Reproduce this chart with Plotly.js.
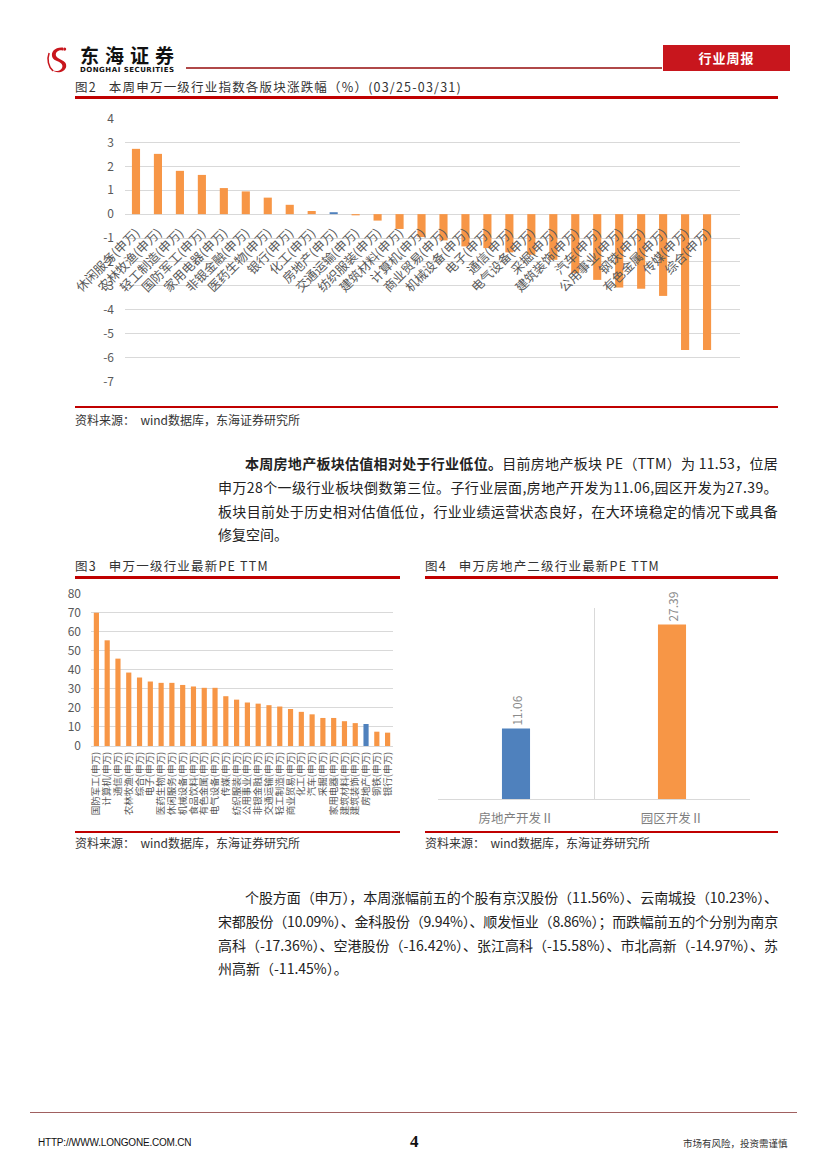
<!DOCTYPE html>
<html>
<head>
<meta charset="utf-8">
<script src="https://cdn.plot.ly/plotly-3.0.1.min.js"></script>
<style>
  html,body{margin:0;padding:0;background:#fff;}
  body{width:827px;height:1170px;position:relative;overflow:hidden;font-family:"Noto Sans CJK SC","Noto Sans",sans-serif;color:#222;}
  .a{position:absolute;white-space:nowrap;}
  .rl{position:absolute;background:#c00000;}
  .ttl{font-size:12.5px;line-height:16px;color:#333;letter-spacing:1.2px;}
  .src{font-size:12px;line-height:16px;color:#333;}
  .p{font-size:14px;line-height:24px;color:#222;display:inline-block;}
  .chart{position:absolute;}
</style>
</head>
<body>
<!-- header -->
<svg class="a" style="left:46px;top:44px;" width="28" height="32" viewBox="0 0 36 38">
  <path d="M22 3 C12 2 6 8 8 15 C10 21 20 20 21 26 C22 32 14 35 8 32 C13 37 25 35 26 27 C27 19 15 19 13 14 C11 9 17 5 22 7 Z" fill="#c8161d"/>
  <path d="M4 10 C1 18 3 28 9 33" stroke="#c8161d" stroke-width="2" fill="none"/>
  <circle cx="24" cy="5" r="2" fill="#c8161d"/>
</svg>
<div class="a" style="left:80px;top:45px;font-size:19px;line-height:20px;font-weight:bold;letter-spacing:6px;color:#111;">东海证券</div>
<div class="a" style="left:80px;top:66px;font-size:7px;line-height:8px;font-weight:bold;letter-spacing:0.5px;color:#111;font-family:'DejaVu Sans',sans-serif;">DONGHAI SECURITIES</div>
<div class="a" style="left:186px;top:67px;width:476px;height:1.5px;background:#b04848;"></div>
<div class="a" style="left:663px;top:45px;width:127px;height:26px;background:#c8161d;color:#fff;font-size:13px;font-weight:bold;line-height:26px;text-align:center;letter-spacing:1px;">行业周报</div>

<!-- Figure 2 -->
<div class="a ttl" style="left:75px;top:79px;">图2&nbsp;&nbsp;&nbsp;本周申万一级行业指数各版块涨跌幅（%）(03/25-03/31)</div>
<div class="rl" style="left:75px;top:96px;width:703px;height:2.5px;"></div>
<div id="c1" class="chart" style="left:60px;top:100px;width:720px;height:300px;"></div>
<div class="rl" style="left:75px;top:406px;width:703px;height:2px;"></div>
<div class="a src" style="left:75px;top:412px;">资料来源：&nbsp;&nbsp;wind数据库，东海证券研究所</div>

<!-- paragraph 1 -->
<div class="a" style="left:245px;top:450px;"><span class="p jl" data-w="533"><b>本周房地产板块估值相对处于行业低位。</b>目前房地产板块 PE（TTM）为 11.53，位居</span></div>
<div class="a" style="left:218px;top:474px;"><span class="p jl" data-w="560">申万28个一级行业板块倒数第三位。子行业层面,房地产开发为11.06,园区开发为27.39。</span></div>
<div class="a" style="left:218px;top:498px;"><span class="p jl" data-w="560">板块目前处于历史相对估值低位，行业业绩运营状态良好，在大环境稳定的情况下或具备</span></div>
<div class="a" style="left:218px;top:521px;"><span class="p">修复空间。</span></div>

<!-- Figure 3 & 4 titles -->
<div class="a ttl" style="left:75px;top:558px;">图3&nbsp;&nbsp;&nbsp;申万一级行业最新PE TTM</div>
<div class="rl" style="left:75px;top:576px;width:325px;height:2.5px;"></div>
<div class="a ttl" style="left:425px;top:558px;">图4&nbsp;&nbsp;&nbsp;申万房地产二级行业最新PE TTM</div>
<div class="rl" style="left:425px;top:576px;width:353px;height:2.5px;"></div>

<div id="c3" class="chart" style="left:60px;top:580px;width:340px;height:250px;"></div>
<div id="c4" class="chart" style="left:425px;top:580px;width:353px;height:250px;"></div>

<div class="rl" style="left:75px;top:831px;width:325px;height:2px;"></div>
<div class="rl" style="left:425px;top:831px;width:353px;height:2px;"></div>
<div class="a src" style="left:75px;top:835px;">资料来源：&nbsp;&nbsp;wind数据库，东海证券研究所</div>
<div class="a src" style="left:425px;top:835px;">资料来源：&nbsp;&nbsp;wind数据库，东海证券研究所</div>

<!-- paragraph 2 -->
<div class="a" style="left:245px;top:884px;"><span class="p jl" data-w="533">个股方面（申万），本周涨幅前五的个股有京汉股份（11.56%）、云南城投（10.23%）、</span></div>
<div class="a" style="left:218px;top:908px;"><span class="p jl" data-w="560">宋都股份（10.09%）、金科股份（9.94%）、顺发恒业（8.86%）；而跌幅前五的个分别为南京</span></div>
<div class="a" style="left:218px;top:932px;"><span class="p jl" data-w="560">高科（-17.36%）、空港股份（-16.42%）、张江高科（-15.58%）、市北高新（-14.97%）、苏</span></div>
<div class="a" style="left:218px;top:955px;"><span class="p">州高新（-11.45%）。</span></div>

<!-- footer -->
<div class="a" style="left:30px;top:1112px;width:767px;height:1px;background:#a06060;"></div>
<div class="a" style="left:38px;top:1136px;font-size:10px;line-height:14px;font-family:'Liberation Sans',sans-serif;letter-spacing:-0.2px;color:#111;">HTTP://WWW.LONGONE.COM.CN</div>
<div class="a" style="left:410px;top:1132px;font-size:17px;line-height:20px;font-weight:bold;font-family:'Liberation Serif',serif;color:#111;">4</div>
<div class="a" style="left:683px;top:1137px;font-size:9.5px;line-height:12px;color:#333;">市场有风险，投资需谨慎</div>

<script>
// ---------- Data ----------
// Figure 2: weekly change (%) of SW level-1 sectors
var fig2Categories = ['休闲服务(申万)','农林牧渔(申万)','轻工制造(申万)','国防军工(申万)','家用电器(申万)','非银金融(申万)','医药生物(申万)','银行(申万)','化工(申万)','房地产(申万)','交通运输(申万)','纺织服装(申万)','建筑材料(申万)','计算机(申万)','商业贸易(申万)','机械设备(申万)','电子(申万)','通信(申万)','电气设备(申万)','采掘(申万)','建筑装饰(申万)','汽车(申万)','公用事业(申万)','钢铁(申万)','有色金属(申万)','传媒(申万)','综合(申万)'];
var fig2Values = [2.73, 2.52, 1.81, 1.64, 1.09, 0.95, 0.69, 0.39, 0.13, 0.08, -0.05, -0.27, -0.62, -0.96, -1.10, -1.35, -1.42, -1.60, -1.70, -1.91, -2.47, -2.75, -3.07, -3.12, -3.42, -5.68, -5.68];
var fig2HighlightIndex = 9;
var fig2TickVals = [4, 3, 2, 1, 0, -1, -2, -3, -4, -5, -6, -7];
var fig2TickText = ['4', '3', '2', '1', '0', '-1', '-2', '-3', '-4', '-5', '-6', '-7'];

// Figure 3: latest PE TTM of SW level-1 sectors
var fig3Categories = ['国防军工(申万)','计算机(申万)','通信(申万)','农林牧渔(申万)','综合(申万)','电子(申万)','医药生物(申万)','休闲服务(申万)','机械设备(申万)','食品饮料(申万)','有色金属(申万)','电气设备(申万)','传媒(申万)','纺织服装(申万)','公用事业(申万)','非银金融(申万)','交通运输(申万)','轻工制造(申万)','商业贸易(申万)','化工(申万)','汽车(申万)','采掘(申万)','家用电器(申万)','建筑材料(申万)','建筑装饰(申万)','房地产(申万)','钢铁(申万)','银行(申万)'];
var fig3Values = [69.8, 55.4, 45.8, 38.5, 35.9, 33.8, 33.1, 33.1, 32.0, 31.2, 30.5, 30.5, 26.1, 24.3, 22.8, 22.2, 21.4, 20.7, 19.4, 17.9, 16.6, 14.7, 14.7, 13.0, 12.0, 11.53, 7.5, 7.0];
var fig3HighlightName = '房地产(申万)';
var fig3TickVals = [0, 10, 20, 30, 40, 50, 60, 70, 80];

// Figure 4: SW real estate level-2 PE TTM
var fig4Categories = ['房地产开发Ⅱ', '园区开发Ⅱ'];
var fig4Values = [11.06, 27.39];

var ORANGE = '#F79646', BLUE = '#4F81BD';
var GRID = '#d9d9d9', TXT = '#595959';
var FONT = '"Noto Sans CJK SC", "Noto Sans", sans-serif';
var cfg = {staticPlot: true, displayModeBar: false, responsive: false};

// ---------- Figure 2 ----------
(function(){
  var yRange = [-7.02, 4.02];
  var colors = fig2Categories.map(function(c, i){ return i === fig2HighlightIndex ? BLUE : ORANGE; });
  Plotly.newPlot('c1', [{
    type: 'bar', x: fig2Categories, y: fig2Values,
    marker: {color: colors, line: {width: 0}}, hoverinfo: 'none'
  }], {
    width: 720, height: 300,
    margin: {l: 65, r: 40, t: 18, b: 18},
    paper_bgcolor: 'rgba(0,0,0,0)', plot_bgcolor: 'rgba(0,0,0,0)',
    font: {family: FONT, color: TXT},
    bargap: 0.63, showlegend: false,
    xaxis: {
      type: 'category', anchor: 'free', range: [-0.5, 27.5],
      position: (0 - yRange[0]) / (yRange[1] - yRange[0]),
      tickmode: 'linear', dtick: 1,
      tickangle: -45, tickfont: {size: 12.5, color: TXT, family: FONT},
      showgrid: false, showline: false, zeroline: false, ticks: '',
      ticklabelstandoff: 8, automargin: false, fixedrange: true
    },
    yaxis: {
      range: yRange, tickmode: 'array', tickvals: fig2TickVals, ticktext: fig2TickText,
      showgrid: true, gridcolor: GRID, gridwidth: 1, zeroline: false, showline: false,
      ticks: '', tickfont: {size: 12, color: TXT, family: FONT},
      ticklabelstandoff: 10, automargin: false, fixedrange: true
    }
  }, cfg);
})();

// ---------- Figure 3 ----------
(function(){
  var colors = fig3Categories.map(function(c){ return c === fig3HighlightName ? BLUE : ORANGE; });
  Plotly.newPlot('c3', [{
    type: 'bar', x: fig3Categories, y: fig3Values,
    marker: {color: colors, line: {width: 0}}, hoverinfo: 'none'
  }], {
    width: 340, height: 250,
    margin: {l: 31, r: 7, t: 13, b: 84},
    paper_bgcolor: 'rgba(0,0,0,0)', plot_bgcolor: 'rgba(0,0,0,0)',
    font: {family: FONT, color: TXT},
    bargap: 0.52, showlegend: false,
    xaxis: {
      type: 'category', tickmode: 'linear', dtick: 1,
      tickangle: -90, tickfont: {size: 9.5, color: TXT, family: FONT},
      showgrid: false, showline: false, zeroline: false, ticks: '',
      ticklabelstandoff: 3, automargin: false, fixedrange: true
    },
    yaxis: {
      range: [0, 80.2], tickmode: 'array', tickvals: fig3TickVals,
      showgrid: true, gridcolor: GRID, zeroline: true, zerolinecolor: GRID, zerolinewidth: 1,
      showline: false, ticks: '', tickfont: {size: 12, color: TXT, family: FONT},
      ticklabelstandoff: 9, automargin: false, fixedrange: true
    }
  }, cfg);
})();

// ---------- Figure 4 ----------
(function(){
  Plotly.newPlot('c4', [{
    type: 'bar', x: fig4Categories, y: fig4Values,
    marker: {color: [BLUE, ORANGE], line: {width: 0}},
    texttemplate: '%{y:.2f}', textposition: 'outside', textangle: -90,
    textfont: {size: 12, color: '#8c8c8c', family: FONT},
    constraintext: 'none', cliponaxis: false, hoverinfo: 'none'
  }], {
    width: 353, height: 250,
    margin: {l: 13, r: 28, t: 28, b: 31},
    paper_bgcolor: 'rgba(0,0,0,0)', plot_bgcolor: 'rgba(0,0,0,0)',
    font: {family: FONT, color: TXT},
    bargap: 0.82, showlegend: false,
    xaxis: {
      type: 'category', tickson: 'boundaries',
      showgrid: true, gridcolor: GRID, gridwidth: 1,
      showline: true, linecolor: GRID, linewidth: 1, zeroline: false, ticks: '',
      tickfont: {size: 12.5, color: '#7f7f7f', family: FONT},
      ticklabelstandoff: 8, automargin: false, fixedrange: true
    },
    yaxis: {range: [0, 30], visible: false, showgrid: false, zeroline: false, fixedrange: true}
  }, cfg);
})();

// ---------- justify text lines ----------
function fitLines(){
  document.querySelectorAll('.jl').forEach(function(el){
    el.style.letterSpacing = '0px';
    var target = parseFloat(el.getAttribute('data-w'));
    var w = el.getBoundingClientRect().width;
    var n = Array.from(el.textContent).length;
    el.style.letterSpacing = ((target - w) / n) + 'px';
  });
}
if (document.fonts && document.fonts.ready) { document.fonts.ready.then(fitLines); } else { fitLines(); }
fitLines();
</script>
</body>
</html>
